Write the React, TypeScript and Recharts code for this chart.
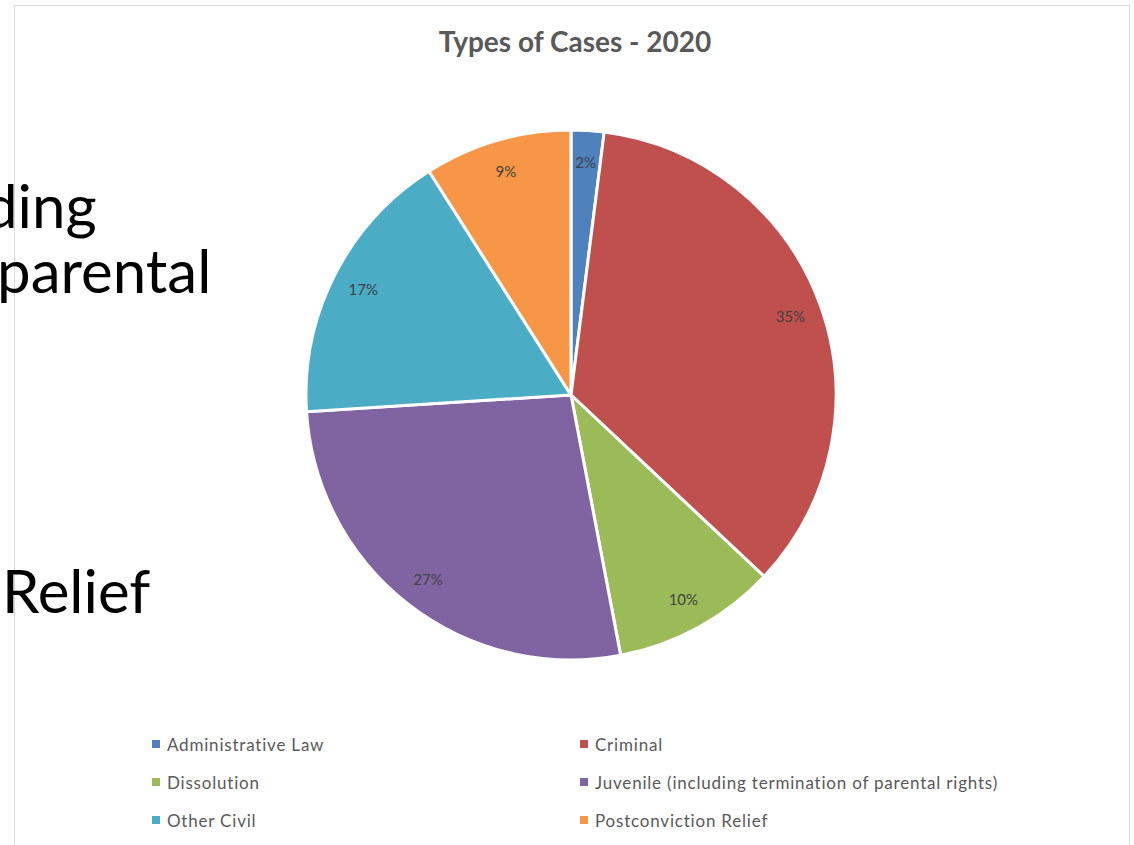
import React from 'react';
import { PieChart, Pie, Cell, Legend } from 'recharts';

const caseTypes = [
  'Administrative Law',
  'Criminal',
  'Dissolution',
  'Juvenile (including termination of parental rights)',
  'Other Civil',
  'Postconviction Relief',
];
const caseShares = [2, 35, 10, 27, 17, 9];
const sliceColors = ['#4f81bd', '#c0504d', '#9bbb59', '#8064a2', '#4bacc6', '#f79646'];

const data = caseTypes.map((name, i) => ({ name, value: caseShares[i], color: sliceColors[i] }));

const RADIAN = Math.PI / 180;

function renderLabel(props: any) {
  const { cx, cy, midAngle, outerRadius, percent } = props;
  const r = outerRadius * 0.88;
  const x = cx + r * Math.cos(-midAngle * RADIAN);
  const y = cy + r * Math.sin(-midAngle * RADIAN);
  return (
    <text x={x} y={y} fill="#404040" fontSize={15} fontFamily="Lato, sans-serif"
      textAnchor="middle" dominantBaseline="central">
      {`${Math.round(percent * 100)}%`}
    </text>
  );
}

function renderLegend(props: any) {
  const { payload } = props;
  return (
    <div style={{ display: 'grid', gridTemplateColumns: '428px 460px', rowGap: 14 }}>
      {payload.map((entry: any, i: number) => (
        <div key={i} style={{ display: 'flex', alignItems: 'center', height: 24 }}>
          <span style={{ width: 8, height: 8, background: entry.color, marginRight: 7, display: 'inline-block' }} />
          <span style={{ fontSize: 17, letterSpacing: 0.8, color: '#595959', fontFamily: 'Lato, sans-serif' }}>{entry.value}</span>
        </div>
      ))}
    </div>
  );
}

const slideText = { position: 'absolute' as const, fontFamily: 'Lato, sans-serif', fontSize: 60, color: '#000', lineHeight: '70px', whiteSpace: 'nowrap' as const };

export default function App() {
  return (
    <div style={{ position: 'absolute', left: 0, top: 0, width: 1134, height: 845, overflow: 'hidden', background: '#fff' }}>
      <div style={{ position: 'absolute', left: 14, top: 5, width: 1114, height: 900, border: '1px solid #d9d9d9', background: '#fff' }} />
      <div style={{ position: 'absolute', left: 0, width: 1134, top: 24, textAlign: 'center', paddingLeft: 8,
        fontFamily: 'Lato, sans-serif', fontWeight: 700, fontSize: 28, color: '#595959' }}>
        Types of Cases - 2020
      </div>
      <div style={{ position: 'absolute', left: 0, top: 0 }}>
        <PieChart width={1134} height={845} margin={{ top: 0, right: 0, bottom: 0, left: 0 }}>
          <Pie data={data} dataKey="value" nameKey="name" cx={571} cy={395} outerRadius={265}
            startAngle={90} endAngle={-270} stroke="#ffffff" strokeWidth={3}
            label={renderLabel} labelLine={false} isAnimationActive={false}>
            {data.map((d, i) => (
              <Cell key={i} fill={d.color} />
            ))}
          </Pie>
          <Legend content={renderLegend}
            wrapperStyle={{ position: 'absolute', left: 152, top: 732, width: 900, bottom: 'auto' }} />
        </PieChart>
      </div>
      <div style={{ ...slideText, left: -16, top: 170 }}>ding</div>
      <div style={{ ...slideText, left: -3, top: 235 }}>parental</div>
      <div style={{ ...slideText, left: 2, top: 555 }}>Relief</div>
    </div>
  );
}
